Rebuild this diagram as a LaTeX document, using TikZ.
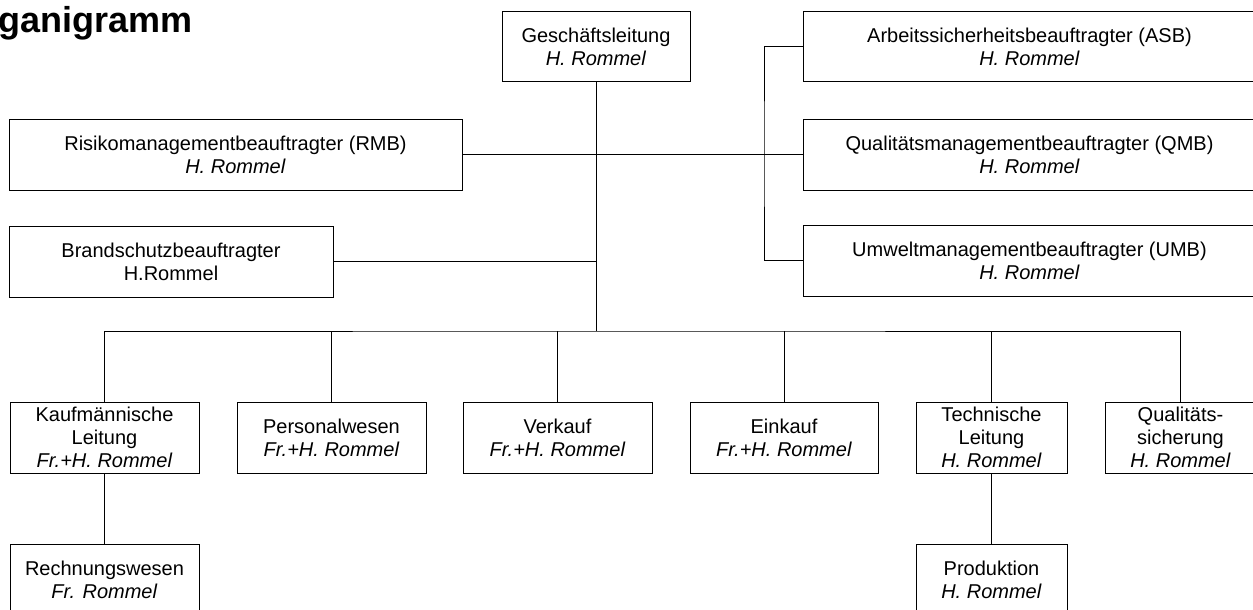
\documentclass[tikz,border=0pt]{standalone}
\usepackage{fontspec}
\setmainfont{Liberation Sans}

\begin{document}
\begin{tikzpicture}[x=1pt, y=-1pt,
    box/.style={draw, line width=1pt, align=center, inner sep=0pt, font=\fontsize{20}{23}\selectfont},
    wide/.style={box, minimum width=453pt, minimum height=71pt},
    unit/.style={box, minimum width=189pt, minimum height=71pt},
    slim/.style={box, minimum width=151pt, minimum height=71pt},
    link/.style={line width=1pt}]
    \useasboundingbox (0,0) rectangle (1253,610);
    \clip (0,0) rectangle (1253,610);

    \node[font=\fontsize{36}{40}\selectfont\bfseries, anchor=base east, inner sep=0pt] (title) at (193,33) {Organigramm};

    % Leitung und Beauftragte
    \node[unit, minimum width=188pt, minimum height=70pt] (gl) at (596,47) {Geschäftsleitung\\\textit{H. Rommel}};
    \node[wide] (rmb) at (235.5,154.5) {Risikomanagementbeauftragter (RMB)\\\textit{H. Rommel}};
    \node[box, minimum width=324pt, minimum height=71pt] (bsb) at (171,261.5) {Brandschutzbeauftragter\\H.Rommel};
    \node[wide, minimum height=70pt] (asb) at (1029.5,47) {Arbeitssicherheitsbeauftragter (ASB)\\\textit{H. Rommel}};
    \node[wide] (qmb) at (1029.5,154.5) {Qualitätsmanagementbeauftragter (QMB)\\\textit{H. Rommel}};
    \node[wide] (umb) at (1029.5,260.5) {Umweltmanagementbeauftragter (UMB)\\\textit{H. Rommel}};

    % Abteilungen
    \node[unit] (kfm) at (104.5,437.5) {Kaufmännische\\Leitung\\\textit{Fr.+H. Rommel}};
    \node[unit] (pers) at (331.5,437.5) {Personalwesen\\\textit{Fr.+H. Rommel}};
    \node[unit] (verk) at (557.5,437.5) {Verkauf\\\textit{Fr.+H. Rommel}};
    \node[unit, minimum width=188pt] (eink) at (784,437.5) {Einkauf\\\textit{Fr.+H. Rommel}};
    \node[slim] (tech) at (991.5,437.5) {Technische\\Leitung\\\textit{H. Rommel}};
    \node[slim] (qs) at (1180.5,437.5) {Qualitäts-\\sicherung\\\textit{H. Rommel}};
    \node[unit] (rw) at (104.5,579.5) {Rechnungswesen\\\textit{Fr. Rommel}};
    \node[slim] (prod) at (991.5,579.5) {Produktion\\\textit{H. Rommel}};

    \coordinate (bus) at (596,331);
    \coordinate (brk) at (764,154.5);

    \draw[link] (gl) -- (bus);
    \draw[link] (rmb.east) -- (qmb.west);
    \draw[link] (asb.west) -| (brk) |- (umb.west);
    \draw[link] (bsb.east) -- (bsb.east -| bus);
    \draw[link] (kfm.north) |- (bus) -| (qs.north);
    \foreach \n in {pers,verk,eink,tech}
        \draw[link] (\n.north) -- (\n.north |- bus);
    \draw[link] (kfm) -- (rw);
    \draw[link] (tech) -- (prod);
\end{tikzpicture}
\end{document}
